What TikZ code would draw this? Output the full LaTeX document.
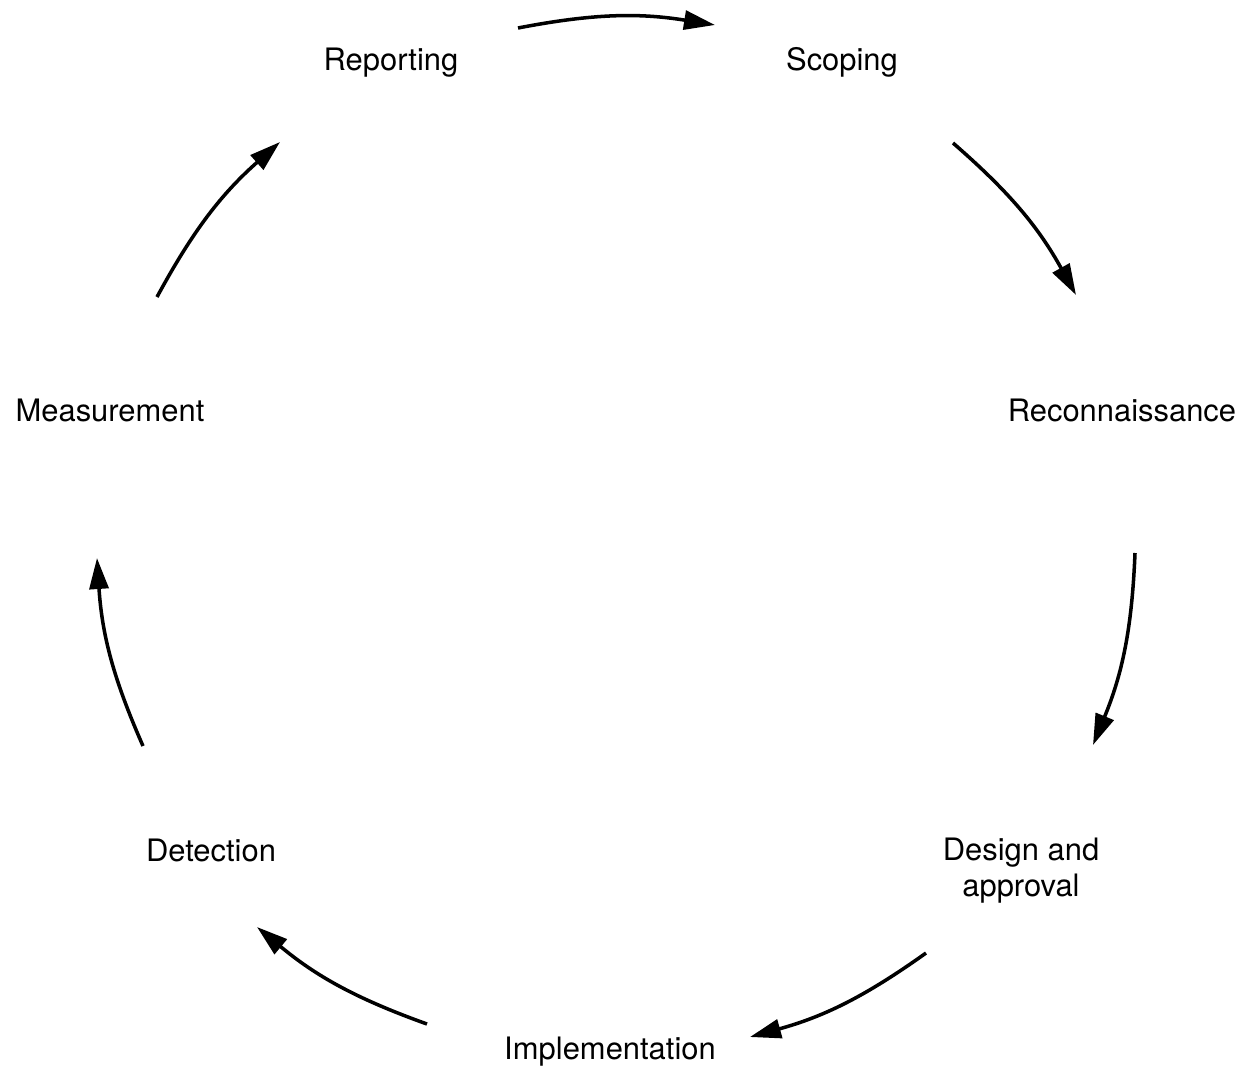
\documentclass[tikz,border=0pt]{standalone}
\usepackage{fontspec}
\setmainfont{TeX Gyre Heros}
\usetikzlibrary{arrows.meta}

\begin{document}
\begin{tikzpicture}[x=0.02cm, y=-0.02cm,
  stage/.style={font=\fontsize{17.6pt}{20pt}\selectfont, align=center, inner sep=0pt, anchor=base},
  cycle/.style={line width=2pt, -{Triangle[length=0.62cm, width=0.38cm]}}]
  \useasboundingbox (0,0) rectangle (1247,1068);

\node[stage] (rep) at (391,71) {Reporting};
\node[stage] (scope) at (842,71) {Scoping};
\node[stage] (recon) at (1122,421) {Reconnaissance};
\node[stage] (design) at (1021,896) {Design and\\approval};
\node[stage] (impl) at (610,1059) {Implementation};
\node[stage] (detect) at (211,861) {Detection};
\node[stage] (meas) at (110,421) {Measurement};

% ends of the arcs, all on one circle
\coordinate (rep-out) at (518,28);   \coordinate (scope-in) at (715,25);
\coordinate (scope-out) at (953,143); \coordinate (recon-in) at (1076,295);
\coordinate (recon-out) at (1135,553); \coordinate (design-in) at (1093,745);
\coordinate (design-out) at (926,953); \coordinate (impl-in) at (750,1037);
\coordinate (impl-out) at (427,1024); \coordinate (detect-in) at (257,927);
\coordinate (detect-out) at (143,746); \coordinate (meas-in) at (97,558);
\coordinate (meas-out) at (157,297);  \coordinate (rep-in) at (280,142);

  \draw[cycle] (rep-out) to[bend left=10] (scope-in);
  \draw[cycle] (scope-out) to[bend left=10] (recon-in);
  \draw[cycle] (recon-out) to[bend left=10] (design-in);
  \draw[cycle] (design-out) to[bend left=10] (impl-in);
  \draw[cycle] (impl-out) to[bend left=10] (detect-in);
  \draw[cycle] (detect-out) to[bend left=10] (meas-in);
  \draw[cycle] (meas-out) to[bend left=10] (rep-in);
\end{tikzpicture}
\end{document}
